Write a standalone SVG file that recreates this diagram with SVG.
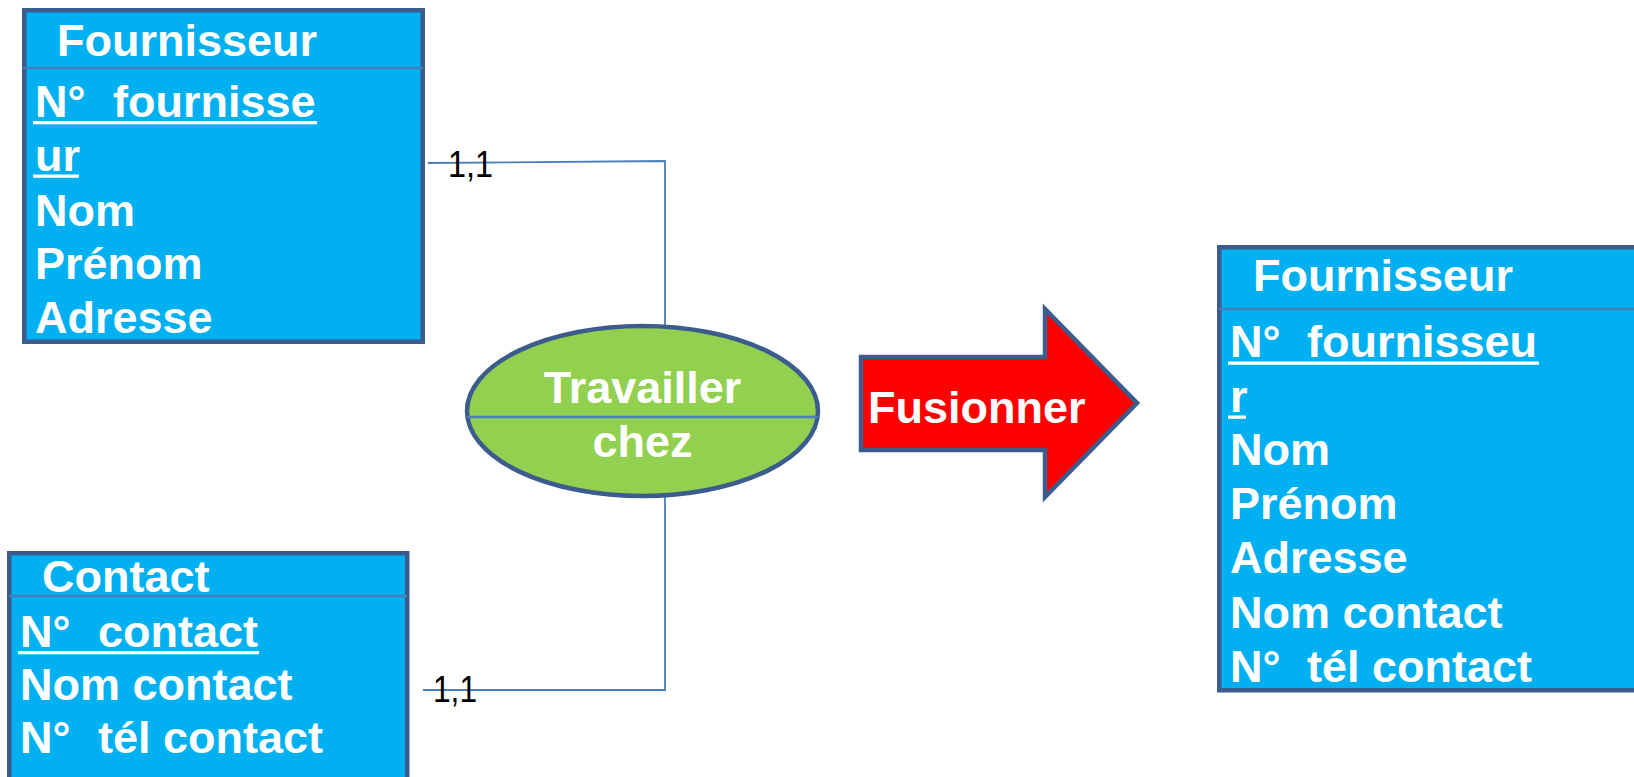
<svg xmlns="http://www.w3.org/2000/svg" width="1634" height="777" viewBox="0 0 1634 777">
  <style>
    .entity { fill: #00B0F0; stroke: #3B5C8C; stroke-width: 4.5; }
    .divider { stroke: #4A7EBB; stroke-width: 2.5; fill: none; }
    .link { stroke: #4A7EBB; stroke-width: 1.8; fill: none; }
    .t { font-family: "Liberation Sans", Arial, sans-serif; font-weight: bold; font-size: 45px; fill: #FFFFFF; }
    .card { font-family: "Liberation Sans", Arial, sans-serif; font-size: 36px; fill: #000000; }
    .ul { fill: #FFFFFF; }
  </style>

  <!-- connectors between the entities and the association -->
  <g id="connectors">
    <polyline class="link" points="428,163 665,161 665,327"/>
    <polyline class="link" points="665,496 665,690 423,690"/>
    <text class="card" x="448" y="177" textLength="45" lengthAdjust="spacingAndGlyphs">1,1</text>
    <text class="card" x="433" y="702" textLength="44" lengthAdjust="spacingAndGlyphs">1,1</text>
  </g>

  <!-- entity: Fournisseur (before merge) -->
  <g id="fournisseur">
    <rect class="entity" x="24.25" y="10.25" width="398.5" height="331.5"/>
    <line class="divider" x1="23" y1="68" x2="423" y2="68"/>
    <text class="t" x="57" y="56">Fournisseur</text>
    <text class="t" x="35" y="117">N°</text>
    <text class="t" x="113" y="117">fournisse</text>
    <rect class="ul" x="33" y="121" width="284" height="3.3"/>
    <text class="t" x="35" y="171">ur</text>
    <rect class="ul" x="33" y="174.5" width="46" height="3.3"/>
    <text class="t" x="35" y="226">Nom</text>
    <text class="t" x="35" y="279">Prénom</text>
    <text class="t" x="35" y="333">Adresse</text>
  </g>

  <!-- entity: Contact -->
  <g id="contact">
    <rect class="entity" x="9.25" y="553.25" width="398" height="240"/>
    <line class="divider" x1="9" y1="596" x2="407" y2="596"/>
    <text class="t" x="42" y="592">Contact</text>
    <text class="t" x="20" y="647">N°</text>
    <text class="t" x="98" y="647">contact</text>
    <rect class="ul" x="18" y="651" width="241" height="3.3"/>
    <text class="t" x="20" y="700">Nom contact</text>
    <text class="t" x="20" y="753">N°</text>
    <text class="t" x="98" y="753">tél contact</text>
  </g>

  <!-- association: Travailler chez -->
  <g id="travailler-chez">
    <ellipse cx="642.5" cy="411" rx="175.5" ry="85" fill="#92D050" stroke="#3B5C8C" stroke-width="4.5"/>
    <line class="divider" x1="467" y1="417" x2="818" y2="417" stroke-width="2"/>
    <text class="t" x="642.5" y="403" text-anchor="middle">Travailler</text>
    <text class="t" x="642.5" y="457" text-anchor="middle">chez</text>
  </g>

  <!-- merge arrow -->
  <g id="fusionner">
    <polygon points="861,357 1045,357 1045,309 1137,403 1045,497 1045,450 861,450" fill="#FF0000" stroke="#3B5C8C" stroke-width="4.5" stroke-linejoin="miter"/>
    <text class="t" x="868" y="423">Fusionner</text>
  </g>

  <!-- entity: Fournisseur (after merge) -->
  <g id="fournisseur-fusionne">
    <rect class="entity" x="1219.25" y="247.25" width="430" height="443"/>
    <line class="divider" x1="1219" y1="309" x2="1634" y2="309"/>
    <text class="t" x="1253" y="291">Fournisseur</text>
    <text class="t" x="1230" y="357">N°</text>
    <text class="t" x="1307" y="357">fournisseu</text>
    <rect class="ul" x="1228" y="361.5" width="311" height="3.3"/>
    <text class="t" x="1230" y="412">r</text>
    <rect class="ul" x="1228" y="415.5" width="18" height="3.3"/>
    <text class="t" x="1230" y="465">Nom</text>
    <text class="t" x="1230" y="519">Prénom</text>
    <text class="t" x="1230" y="573">Adresse</text>
    <text class="t" x="1230" y="628">Nom contact</text>
    <text class="t" x="1230" y="682">N°</text>
    <text class="t" x="1307" y="682">tél contact</text>
  </g>
</svg>
